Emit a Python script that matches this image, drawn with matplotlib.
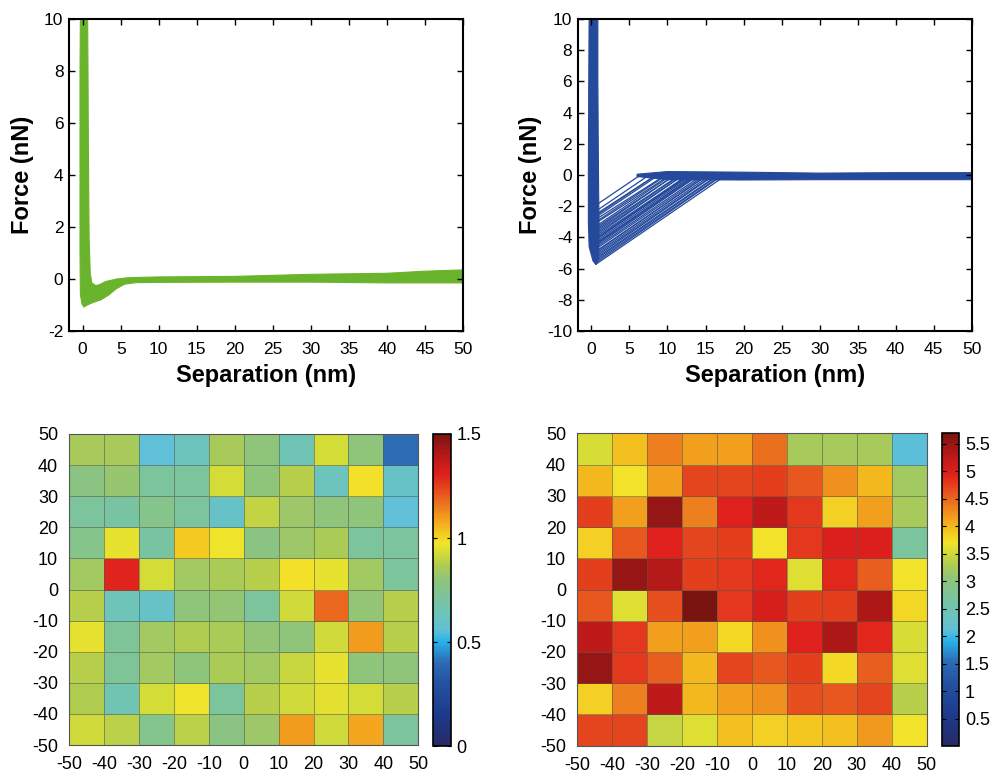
import matplotlib
matplotlib.use("Agg")
import matplotlib.pyplot as plt
import numpy as np
from matplotlib.colors import LinearSegmentedColormap

plt.rcParams['font.family'] = ['Liberation Sans', 'DejaVu Sans']
plt.rcParams['axes.unicode_minus'] = False

# --- force curves (envelopes) ---
# green: outline of the band of overlaid traces (separation nm, force nN)
green_x = [-0.3, -0.35, -0.35, -0.35, -0.3, -0.1, 0.15, 0.6, 1.4, 2.4, 3.4, 4.4, 5.5, 7, 10, 20,
           30, 40, 50, 50, 45, 40, 30, 20, 10, 6, 4.5, 3.0, 2.2, 1.7, 1.2, 1.0, 0.85, 0.75, 0.7, 0.65]
green_y = [10, 8, 4, 1, -0.6, -0.95, -1.08, -1.0, -0.9, -0.8, -0.62, -0.38, -0.2, -0.14, -0.13, -0.12,
           -0.12, -0.15, -0.15, 0.35, 0.3, 0.22, 0.18, 0.1, 0.08, 0.05, 0.0, -0.1, -0.22, -0.25, -0.15, 0.2, 1.5, 5, 8, 10]

# blue: approach/contact band plus flat baseline band
blue_wall_x = [-0.3, -0.35, -0.4, -0.4, -0.3, 0.2, 0.6, 0.95, 1.0, 0.95, 0.9, 0.85, 0.85]
blue_wall_y = [10, 6, 0, -3, -4.6, -5.5, -5.75, -5.4, -3, -1, 2, 6, 10]
blue_flat_x = [6.0, 10, 20, 30, 40, 50, 50, 40, 30, 20, 10, 6.0]
blue_flat_y = [-0.1, -0.3, -0.32, -0.3, -0.3, -0.3, 0.15, 0.15, 0.12, 0.18, 0.22, 0.05]
# retraction jumps: force at snap-off and separation where the trace rejoins baseline
jump_start_x = [1.0, 0.95, 0.95, 0.9, 0.9, 0.9, 0.9, 0.85, 0.85, 0.85, 0.85, 0.8, 0.8, 0.8,
                0.8, 0.8, 0.8, 0.75, 0.75, 0.75, 0.75, 0.75, 0.75, 0.7, 0.7, 0.7, 0.7, 0.7,
                0.7, 0.7, 0.7, 0.7, 0.65, 0.65, 0.65, 0.65]
jump_start_f = [-1.8, -2.2, -2.4, -2.5, -2.6, -2.75, -2.9, -3.0, -3.2, -3.3, -3.4, -3.5, -3.6,
                -3.7, -3.8, -3.9, -4.0, -4.05, -4.1, -4.2, -4.3, -4.35, -4.4, -4.5, -4.6, -4.7,
                -4.85, -4.9, -5.0, -5.1, -5.2, -5.3, -5.4, -5.5, -5.6, -5.7]
jump_end_x = [6.3, 7.3, 7.9, 8.2, 8.4, 8.8, 9.3, 9.6, 10.1, 10.4, 10.7, 11.0, 11.3, 11.5, 11.8,
              12.1, 12.3, 12.5, 12.6, 12.9, 13.2, 13.3, 13.4, 13.7, 14.0, 14.2, 14.7, 14.8,
              15.1, 15.3, 15.6, 15.9, 16.2, 16.4, 16.7, 17.0]
jump_end_f = [-0.05, -0.1, -0.2, -0.1, -0.15, -0.3, -0.2, -0.25, -0.15, -0.2, -0.1, -0.2, -0.15,
              -0.2, -0.1, -0.2, -0.15, -0.2, -0.1, -0.15, -0.2, -0.1, -0.2, -0.15, -0.2, -0.25,
              -0.2, -0.15, -0.2, -0.25, -0.2, -0.25, -0.2, -0.25, -0.2, -0.25]

# --- maps: rows from y=-50..-40 (bottom) to y=40..50 (top) ---
map_left = [
    [0.92, 0.89, 0.75, 0.89, 0.78, 0.83, 1.10, 0.92, 1.08, 0.72],
    [0.87, 0.66, 0.93, 0.97, 0.72, 0.88, 0.92, 0.95, 0.93, 0.88],
    [0.88, 0.73, 0.84, 0.80, 0.86, 0.84, 0.91, 0.96, 0.80, 0.80],
    [0.96, 0.73, 0.84, 0.87, 0.86, 0.81, 0.80, 0.92, 1.10, 0.88],
    [0.88, 0.64, 0.60, 0.80, 0.81, 0.72, 0.92, 1.18, 0.81, 0.88],
    [0.84, 1.30, 0.93, 0.84, 0.86, 0.88, 0.98, 0.96, 0.84, 0.72],
    [0.76, 0.96, 0.70, 1.02, 0.97, 0.78, 0.83, 0.86, 0.72, 0.72],
    [0.72, 0.70, 0.76, 0.72, 0.60, 0.90, 0.83, 0.80, 0.80, 0.56],
    [0.78, 0.82, 0.72, 0.72, 0.93, 0.80, 0.88, 0.63, 0.98, 0.60],
    [0.85, 0.85, 0.56, 0.63, 0.85, 0.80, 0.65, 0.93, 0.80, 0.41],
]
map_right = [
    [4.70, 4.70, 3.45, 3.60, 3.95, 3.85, 3.90, 3.95, 4.20, 3.70],
    [3.85, 4.35, 5.25, 4.00, 4.15, 4.25, 4.65, 4.60, 4.70, 3.35],
    [5.50, 4.80, 4.55, 4.00, 4.70, 4.60, 4.75, 3.80, 4.55, 3.60],
    [5.25, 4.80, 4.15, 4.15, 3.80, 4.25, 4.95, 5.35, 4.90, 3.55],
    [4.60, 3.60, 4.65, 5.70, 4.80, 5.05, 4.75, 4.75, 5.35, 3.80],
    [4.75, 5.50, 5.30, 4.75, 4.80, 4.90, 3.60, 4.90, 4.55, 3.70],
    [3.85, 4.60, 4.95, 4.70, 4.75, 3.70, 4.80, 5.00, 5.00, 2.70],
    [4.75, 4.15, 5.50, 4.35, 4.95, 5.25, 4.80, 3.85, 4.15, 3.25],
    [4.00, 3.70, 4.15, 4.70, 4.70, 4.75, 4.60, 4.25, 4.00, 3.20],
    [3.55, 3.95, 4.35, 4.15, 4.15, 4.45, 3.25, 3.25, 3.25, 2.10],
]
edges = np.arange(-50, 51, 10)
map_ticks = [-50, -40, -30, -20, -10, 0, 10, 20, 30, 40, 50]

cmap = LinearSegmentedColormap.from_list('afm', [
    (0.00, '#262a66'), (0.10, '#1e3a8c'), (0.20, '#2352a0'), (0.27, '#2d6cb4'),
    (0.31, '#2a98d8'), (0.335, '#28b2e8'), (0.37, '#5ec0d8'), (0.42, '#6cc4bc'),
    (0.48, '#7cc49a'), (0.535, '#90c47a'), (0.58, '#b0cc50'), (0.62, '#d4dc38'),
    (0.65, '#f2e42a'), (0.685, '#f4c820'), (0.72, '#f4a81e'), (0.77, '#ec7a1e'),
    (0.82, '#e64c1e'), (0.87, '#e0201c'), (0.92, '#c01a1a'), (1.00, '#7a1410')])

fig = plt.figure(figsize=(9.94, 7.75), dpi=100)

green = '#6ab42d'
blue = '#254a9b'


def style_force(ax, ylim, yticks):
    ax.set_xlim(-1.8, 50)
    ax.set_ylim(*ylim)
    ax.set_xticks(range(0, 51, 5))
    ax.set_yticks(yticks)
    ax.tick_params(direction='in', top=True, right=True, labelsize=12.5, length=4, width=1)
    ax.tick_params(axis='x', pad=8)
    ax.tick_params(axis='y', pad=4)
    for s in ax.spines.values():
        s.set_linewidth(1.5)
    ax.set_xlabel('Separation (nm)', fontsize=17, fontweight='bold')
    ax.set_ylabel('Force (nN)', fontsize=17, fontweight='bold')
    ax.xaxis.set_label_coords(0.5, -0.105)
    ax.yaxis.set_label_coords(-0.09, 0.5)


ax1 = fig.add_axes([0.0694, 0.5729, 0.3964, 0.4026])
ax1.fill(green_x, green_y, color=green, lw=0.8, ec=green)
style_force(ax1, (-2, 10), range(-2, 11, 2))

ax2 = fig.add_axes([0.5812, 0.5729, 0.3964, 0.4026])
ax2.fill(blue_wall_x, blue_wall_y, color=blue, lw=0.8, ec=blue)
ax2.fill(blue_flat_x, blue_flat_y, color=blue, lw=0.8, ec=blue)
for x0, f0, x1, f1 in zip(jump_start_x, jump_start_f, jump_end_x, jump_end_f):
    ax2.plot([x0, x1], [f0, f1], color=blue, lw=0.9)
style_force(ax2, (-10, 10), range(-10, 11, 2))


def draw_map(ax_rect, cax_rect, data, vmax, cticks):
    ax = fig.add_axes(ax_rect)
    mesh = ax.pcolormesh(edges, edges, np.array(data), cmap=cmap, vmin=0, vmax=vmax,
                         edgecolors=(0.3, 0.35, 0.3, 0.55), linewidth=0.6)
    ax.set_xticks(map_ticks)
    ax.set_yticks(map_ticks)
    ax.tick_params(length=0, labelsize=13, pad=8)
    for s in ax.spines.values():
        s.set_linewidth(0.8)
        s.set_color('#555555')
    cax = fig.add_axes(cax_rect)
    cb = fig.colorbar(mesh, cax=cax, ticks=cticks)
    cb.ax.set_yticklabels([('%g' % t) for t in cticks])
    cb.ax.tick_params(direction='in', left=True, right=True, length=3, labelsize=13, pad=4)
    cb.outline.set_linewidth(1.2)
    return ax


draw_map([0.0697, 0.0387, 0.3511, 0.4013], [0.4359, 0.0374, 0.0175, 0.4026],
         map_left, 1.5, [0, 0.5, 1, 1.5])
draw_map([0.5808, 0.0378, 0.3515, 0.4031], [0.9474, 0.0374, 0.0177, 0.4039],
         map_right, 5.7, [0.5, 1, 1.5, 2, 2.5, 3, 3.5, 4, 4.5, 5, 5.5])

plt.savefig('out.png', dpi=100)
